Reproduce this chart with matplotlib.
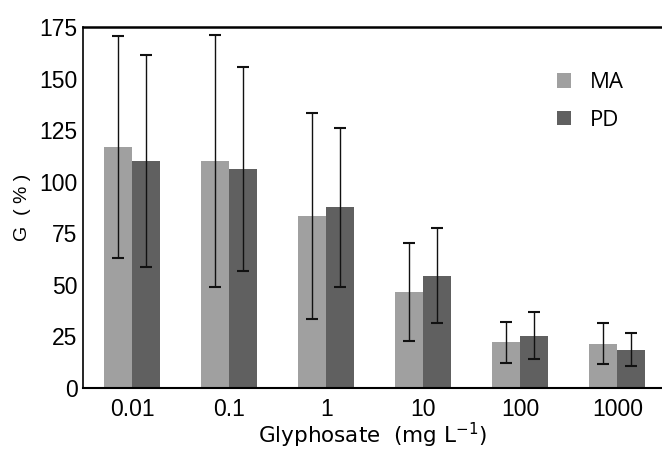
import numpy as np
import matplotlib.pyplot as plt

concentrations = ["0.01", "0.1", "1", "10", "100", "1000"]
ma_mean = [116.8, 110.1, 83.4, 46.4, 22.1, 21.5]
ma_err = [54.0, 61.0, 49.8, 23.7, 9.8, 10.0]
pd_mean = [110.2, 106.3, 87.6, 54.5, 25.4, 18.6]
pd_err = [51.4, 49.5, 38.4, 22.9, 11.4, 7.9]

plt.rcParams['font.family'] = ['Liberation Sans', 'DejaVu Sans']

fig = plt.figure(figsize=(6.62, 4.51), dpi=100)
ax = fig.add_axes([0.1254, 0.1397, 0.8746, 0.8004])

x = np.arange(len(concentrations))
w = 0.29
err_kw = dict(ecolor='#111111', elinewidth=1.0, capsize=4, capthick=1.5)
ax.bar(x - w / 2, ma_mean, w, yerr=ma_err, color='#a0a0a0', label='MA',
       error_kw=err_kw)
ax.bar(x + w / 2, pd_mean, w, yerr=pd_err, color='#606060', label='PD',
       error_kw=err_kw)

ax.set_xlim(-0.505, 5.46)
ax.set_ylim(0, 175)
ax.set_yticks(range(0, 176, 25))
ax.set_xticks(x)
ax.set_xticklabels(concentrations)
ax.tick_params(axis='both', length=0, labelsize=16.5)
ax.tick_params(axis='y', pad=4)
ax.tick_params(axis='x', pad=7)

ax.spines['right'].set_visible(False)
ax.spines['top'].set_linewidth(1.8)
ax.spines['bottom'].set_linewidth(1.5)
ax.spines['left'].set_linewidth(1.2)

ax.set_ylabel("G  ( % )", fontsize=14, labelpad=6)
ax.set_xlabel("Glyphosate  (mg L$^{\\mathregular{-1}}$)", fontsize=15.5, labelpad=0,
              family=['DejaVu Sans'])

leg = ax.legend(loc='upper left', bbox_to_anchor=(0.811, 0.884),
                bbox_transform=fig.transFigure, frameon=False,
                handlelength=0.65, handleheight=0.65, handletextpad=0.85,
                labelspacing=0.74,
                prop={'family': ['Open Sans', 'DejaVu Sans'], 'size': 16})

fig.savefig("out.png", dpi=100)
